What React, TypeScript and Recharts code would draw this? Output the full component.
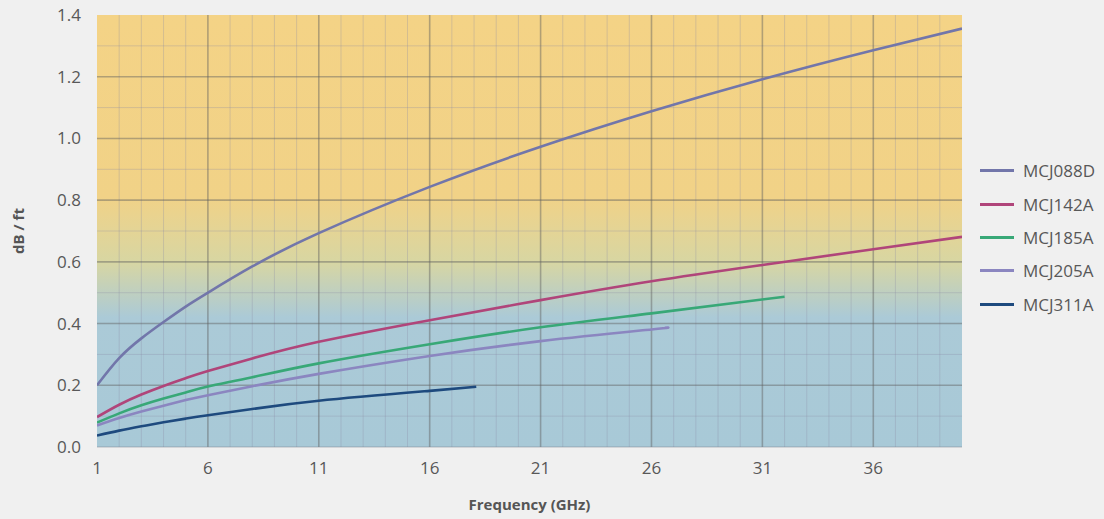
import React from 'react';
import { LineChart, Line, XAxis, YAxis, CartesianGrid, Legend } from 'recharts';

const FONT = '"Open Sans", "Noto Sans", sans-serif';

const seriesNames = ['MCJ088D', 'MCJ142A', 'MCJ185A', 'MCJ205A', 'MCJ311A'];
const seriesColors = ['#7276aa', '#b0457a', '#38a877', '#8b86c0', '#1e4a7e'];

const freq088D = [1, 2, 3, 4, 5, 6, 8, 11, 16, 21, 26, 31, 36, 40];
const loss088D = [0.2, 0.288, 0.352, 0.405, 0.455, 0.5, 0.585, 0.693, 0.843, 0.973, 1.088, 1.192, 1.286, 1.356];

const freq142A = [1, 2, 3, 4, 5, 6, 8, 11, 16, 21, 26, 31, 36, 40];
const loss142A = [0.097, 0.137, 0.17, 0.198, 0.223, 0.246, 0.287, 0.341, 0.411, 0.476, 0.537, 0.59, 0.641, 0.681];

const freq185A = [1, 2, 3, 4, 5, 6, 8, 11, 16, 21, 26, 32];
const loss185A = [0.079, 0.109, 0.135, 0.157, 0.177, 0.196, 0.226, 0.271, 0.333, 0.388, 0.433, 0.487];

const freq205A = [1, 2, 3, 4, 5, 6, 8, 11, 16, 21, 26, 26.6];
const loss205A = [0.07, 0.094, 0.115, 0.134, 0.152, 0.168, 0.197, 0.237, 0.295, 0.343, 0.381, 0.386];

const freq311A = [1, 2, 3, 4, 5, 6, 8, 11, 16, 18.1];
const loss311A = [0.037, 0.053, 0.067, 0.08, 0.092, 0.103, 0.123, 0.15, 0.182, 0.195];

const xTicks = [1, 6, 11, 16, 21, 26, 31, 36];
const yTicks = [0, 0.2, 0.4, 0.6, 0.8, 1.0, 1.2, 1.4];
const minorX = [2, 3, 4, 5, 7, 8, 9, 10, 12, 13, 14, 15, 17, 18, 19, 20, 22, 23, 24, 25, 27, 28, 29, 30, 32, 33, 34, 35, 37, 38, 39];
const minorY = [0.1, 0.3, 0.5, 0.7, 0.9, 1.1, 1.3];
const majorX = [6, 11, 16, 21, 26, 31, 36];
const majorY = [0.2, 0.4, 0.6, 0.8, 1.0, 1.2];

const toPoints = (f: number[], v: number[]) => f.map((x, i) => ({ f: x, v: v[i] }));
const seriesData = [
  toPoints(freq088D, loss088D),
  toPoints(freq142A, loss142A),
  toPoints(freq185A, loss185A),
  toPoints(freq205A, loss205A),
  toPoints(freq311A, loss311A),
];

const LegendContent = () => (
  <div style={{ fontFamily: FONT, fontSize: 17, color: '#585858' }}>
    {seriesNames.map((n, i) => (
      <div key={n} style={{ display: 'flex', alignItems: 'center', height: 33.4 }}>
        <div style={{ width: 34, height: 3, background: seriesColors[i], marginRight: 9 }} />
        <span>{n}</span>
      </div>
    ))}
  </div>
);

const YLabel = (props: any) => {
  const vb = props.viewBox || {};
  const x = vb.x + 18;
  const y = vb.y + vb.height / 2;
  return (
    <text x={x} y={y} transform={`rotate(-90 ${x} ${y})`} textAnchor="middle" dominantBaseline="central"
      style={{ fontFamily: FONT, fontSize: 15, fontWeight: 700, fill: '#555' }}>dB / ft</text>
  );
};

const XLabel = (props: any) => {
  const vb = props.viewBox || {};
  const x = vb.x + vb.width / 2;
  const y = vb.y + 57;
  return (
    <text x={x} y={y} textAnchor="middle" dominantBaseline="central"
      style={{ fontFamily: FONT, fontSize: 15, fontWeight: 700, fill: '#555' }}>Frequency (GHz)</text>
  );
};

export default function App() {
  return (
    <div style={{ position: 'absolute', left: 0, top: 0, width: 1104, height: 519, background: '#f0f0f0' }}>
      <LineChart width={1104} height={519} margin={{ top: 15, right: 142, bottom: 0, left: 0 }}>
        <defs>
          <linearGradient id="bgGrad" x1="0" y1="0" x2="0" y2="1">
            <stop offset="0" stopColor="#f4d386" />
            <stop offset="0.42" stopColor="#f1d287" />
            <stop offset="0.57" stopColor="#d8d6a2" />
            <stop offset="0.70" stopColor="#abcad7" />
            <stop offset="1" stopColor="#a8c9d7" />
          </linearGradient>
        </defs>
        <CartesianGrid fill="url(#bgGrad)" fillOpacity={1} stroke="rgba(140,140,165,0.3)" strokeWidth={1}
          horizontalValues={minorY} verticalValues={minorX} />
        <CartesianGrid fill="none" stroke="rgba(95,95,95,0.45)" strokeWidth={1.6}
          horizontalValues={majorY} verticalValues={majorX} />
        <XAxis dataKey="f" type="number" domain={[1, 40]} ticks={xTicks} allowDataOverflow
          axisLine={{ stroke: 'rgba(120,130,140,0.5)' }} tickLine={false} tickSize={0} tickMargin={15} height={72}
          tick={{ fontFamily: FONT, fontSize: 17, fill: '#585858' }} label={<XLabel />} />
        <YAxis type="number" domain={[0, 1.4]} ticks={yTicks} width={97} axisLine={false} tickLine={false}
          tickSize={0} tickMargin={16} tickFormatter={(v: number) => v.toFixed(1)}
          tick={{ fontFamily: FONT, fontSize: 17, fill: '#585858' }} label={<YLabel />} />
        <Legend content={<LegendContent />} layout="vertical" align="center" verticalAlign="middle"
          wrapperStyle={{ position: 'absolute', left: 980, top: 154, width: 124 }} />
        {seriesNames.map((n, i) => (
          <Line key={n} name={n} data={seriesData[i]} dataKey="v" type="natural" stroke={seriesColors[i]}
            strokeWidth={2.6} dot={false} activeDot={false} isAnimationActive={false} />
        ))}
      </LineChart>
    </div>
  );
}
